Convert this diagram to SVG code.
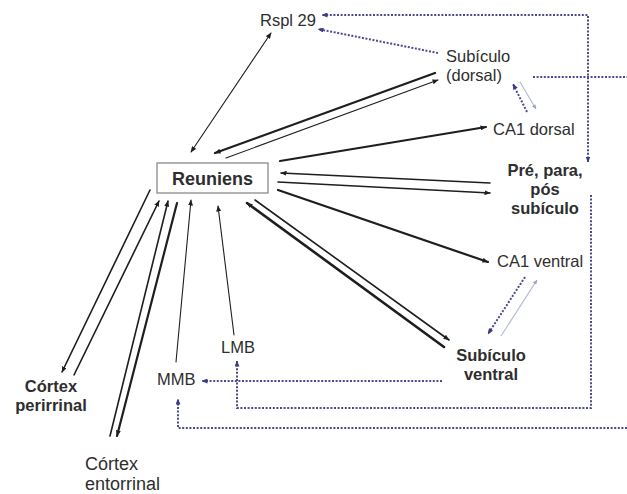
<svg xmlns="http://www.w3.org/2000/svg" width="627" height="494" viewBox="0 0 627 494">
  <style>
    text { font-family: "Liberation Sans", Arial, sans-serif; fill: #2e2e2e; }
    .lbl { font-size: 16.5px; }
    .bold { font-size: 16.5px; font-weight: bold; }
    .big { font-size: 18px; }
    .mid { text-anchor: middle; }
    .solid { stroke: #1e1e1e; fill: none; stroke-linecap: round; }
    .thin { stroke-width: 1.1; }
    .med { stroke-width: 1.6; }
    .thick { stroke-width: 2.2; }
    .dot { stroke: #4a4a8c; stroke-width: 2; stroke-dasharray: 2 1.6; fill: none; }
    .light { stroke: #b4bad6; stroke-width: 1.2; fill: none; }
    .box { fill: #ffffff; stroke: #8a8a8a; stroke-width: 1.3; }
  </style>
  <defs>
    <marker id="ah" viewBox="0 0 6 5" refX="5.5" refY="2.5" markerWidth="6" markerHeight="5" markerUnits="userSpaceOnUse" orient="auto-start-reverse">
      <path d="M0,0 L6,2.5 L0,5 z" fill="#1e1e1e"/>
    </marker>
    <marker id="ahb" viewBox="0 0 6 5" refX="5.5" refY="2.5" markerWidth="6" markerHeight="5" markerUnits="userSpaceOnUse" orient="auto-start-reverse">
      <path d="M0,0 L6,2.5 L0,5 z" fill="#3c3c86"/>
    </marker>
    <marker id="ahl" viewBox="0 0 6 5" refX="5.5" refY="2.5" markerWidth="5" markerHeight="4" markerUnits="userSpaceOnUse" orient="auto-start-reverse">
      <path d="M0,0 L6,2.5 L0,5 z" fill="#9aa2c8"/>
    </marker>
  </defs>

  <!-- connectors -->
  <g id="connectors">
    <!-- solid projections -->
    <line class="solid thin" x1="271" y1="33" x2="191" y2="152" marker-start="url(#ah)" marker-end="url(#ah)"/>
    <line class="solid thick" x1="435" y1="73" x2="215" y2="153" marker-end="url(#ah)"/>
    <line class="solid thin" x1="226" y1="158" x2="438" y2="80" marker-end="url(#ah)"/>
    <line class="solid thick" x1="280" y1="161" x2="486" y2="127" marker-end="url(#ah)"/>
    <line class="solid med" x1="490" y1="183" x2="281" y2="173" marker-end="url(#ah)"/>
    <line class="solid med" x1="278" y1="182" x2="490" y2="193" marker-end="url(#ah)"/>
    <line class="solid thick" x1="278" y1="190" x2="488" y2="262" marker-end="url(#ah)"/>
    <line class="solid thick" x1="444" y1="347" x2="247" y2="203" marker-end="url(#ah)" style="stroke-width:2.6"/>
    <line class="solid med" x1="255" y1="200" x2="449" y2="340" marker-end="url(#ah)"/>
    <line class="solid thin" x1="234" y1="335" x2="218" y2="206" marker-end="url(#ah)"/>
    <line class="solid thin" x1="176" y1="362" x2="191" y2="200" marker-end="url(#ah)"/>
    <line class="solid med" x1="150" y1="190" x2="62" y2="372" marker-end="url(#ah)"/>
    <line class="solid med" x1="74" y1="375" x2="159" y2="201" marker-end="url(#ah)"/>
    <line class="solid med" x1="110" y1="436" x2="168" y2="201" marker-end="url(#ah)"/>
    <line class="solid thick" x1="177" y1="203" x2="117" y2="436" marker-end="url(#ah)"/>

    <!-- dotted projections -->
    <line class="dot" x1="438" y1="53" x2="318" y2="29" marker-end="url(#ahb)"/>
    <path class="dot" d="M588,162 L588,15 L322,15" marker-start="url(#ahb)" marker-end="url(#ahb)"/>
    <line class="dot" x1="533" y1="77" x2="627" y2="77"/>
    <line class="dot" x1="527" y1="112" x2="513" y2="84" marker-end="url(#ahb)"/>
    <line class="light" x1="520" y1="82" x2="536" y2="109" marker-end="url(#ahl)"/>
    <path class="dot" d="M591,195 L591,408 L237,408 L237,361" marker-end="url(#ahb)"/>
    <line class="dot" x1="442" y1="381" x2="202" y2="381" marker-end="url(#ahb)"/>
    <path class="dot" d="M627,428 L178,428 L178,399" marker-end="url(#ahb)"/>
    <line class="dot" x1="525" y1="277" x2="488" y2="334" marker-end="url(#ahb)"/>
    <line class="light" x1="501" y1="336" x2="537" y2="280" marker-end="url(#ahl)"/>
  </g>

  <!-- nodes -->
  <g id="reuniens">
    <rect class="box" x="157" y="163" width="111" height="30"/>
    <text class="big mid" x="212.5" y="185" font-weight="bold">Reuniens</text>
  </g>
  <g id="rspl29">
    <text class="lbl" x="260" y="26">Rspl 29</text>
  </g>
  <g id="subiculo-dorsal">
    <text class="lbl" x="446" y="62">Subículo</text>
    <text class="lbl" x="446" y="81">(dorsal)</text>
  </g>
  <g id="ca1-dorsal">
    <text class="lbl" x="493" y="135">CA1 dorsal</text>
  </g>
  <g id="pre-para-pos-subiculo">
    <text class="bold mid" x="545" y="176">Pré, para,</text>
    <text class="bold mid" x="545" y="195">pós</text>
    <text class="bold mid" x="545" y="214">subículo</text>
  </g>
  <g id="ca1-ventral">
    <text class="lbl" x="497" y="267">CA1 ventral</text>
  </g>
  <g id="subiculo-ventral">
    <text class="bold mid" x="491" y="361">Subículo</text>
    <text class="bold mid" x="491" y="380">ventral</text>
  </g>
  <g id="lmb">
    <text class="lbl" x="221" y="353">LMB</text>
  </g>
  <g id="mmb">
    <text class="lbl" x="157" y="385">MMB</text>
  </g>
  <g id="cortex-perirrinal">
    <text class="bold mid" x="51" y="392">Córtex</text>
    <text class="bold mid" x="51" y="411">perirrinal</text>
  </g>
  <g id="cortex-entorrinal">
    <text class="big" x="85" y="470">Córtex</text>
    <text class="big" x="85" y="490">entorrinal</text>
  </g>
</svg>
